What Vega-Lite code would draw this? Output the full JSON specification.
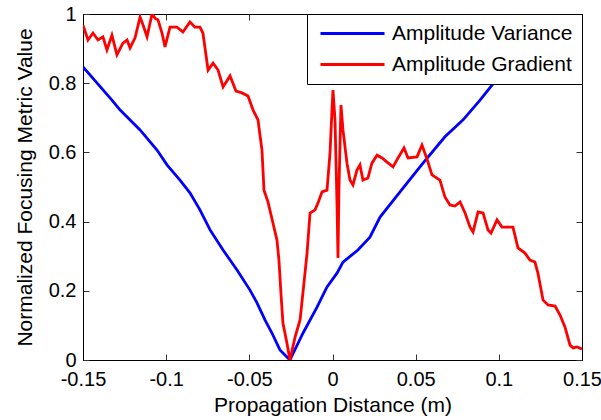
{
  "$schema": "https://vega.github.io/schema/vega-lite/v6.json",
  "width": 499,
  "height": 346,
  "autosize": {"type": "none"},
  "padding": {"left": 83, "top": 14, "right": 19, "bottom": 60},
  "background": "white",
  "config": {
    "font": "Liberation Sans",
    "view": {"stroke": "black", "strokeWidth": 1},
    "axis": {"grid": false, "domainColor": "black", "tickColor": "#333333", "labelColor": "black", "titleColor": "black", "labelFont": "Liberation Sans", "titleFont": "Liberation Sans", "labelFontSize": 20, "titleFontSize": 21, "titleFontWeight": "normal"}
  },
  "data": {
    "values": [
      {"series": "Amplitude Variance", "x": -0.15, "y": 0.847},
      {"series": "Amplitude Variance", "x": -0.1326, "y": 0.751},
      {"series": "Amplitude Variance", "x": -0.1278, "y": 0.723},
      {"series": "Amplitude Variance", "x": -0.1157, "y": 0.665},
      {"series": "Amplitude Variance", "x": -0.1055, "y": 0.607},
      {"series": "Amplitude Variance", "x": -0.0995, "y": 0.564},
      {"series": "Amplitude Variance", "x": -0.0917, "y": 0.52},
      {"series": "Amplitude Variance", "x": -0.0857, "y": 0.483},
      {"series": "Amplitude Variance", "x": -0.0797, "y": 0.434},
      {"series": "Amplitude Variance", "x": -0.0736, "y": 0.376},
      {"series": "Amplitude Variance", "x": -0.0658, "y": 0.318},
      {"series": "Amplitude Variance", "x": -0.0574, "y": 0.26},
      {"series": "Amplitude Variance", "x": -0.0496, "y": 0.202},
      {"series": "Amplitude Variance", "x": -0.0454, "y": 0.165},
      {"series": "Amplitude Variance", "x": -0.0406, "y": 0.116},
      {"series": "Amplitude Variance", "x": -0.0364, "y": 0.078},
      {"series": "Amplitude Variance", "x": -0.0316, "y": 0.029},
      {"series": "Amplitude Variance", "x": -0.0256, "y": 0.0},
      {"series": "Amplitude Variance", "x": -0.0177, "y": 0.078},
      {"series": "Amplitude Variance", "x": -0.0093, "y": 0.153},
      {"series": "Amplitude Variance", "x": -0.0033, "y": 0.211},
      {"series": "Amplitude Variance", "x": 0.0027, "y": 0.251},
      {"series": "Amplitude Variance", "x": 0.0063, "y": 0.283},
      {"series": "Amplitude Variance", "x": 0.0153, "y": 0.318},
      {"series": "Amplitude Variance", "x": 0.0225, "y": 0.355},
      {"series": "Amplitude Variance", "x": 0.0286, "y": 0.413},
      {"series": "Amplitude Variance", "x": 0.0406, "y": 0.486},
      {"series": "Amplitude Variance", "x": 0.0544, "y": 0.569},
      {"series": "Amplitude Variance", "x": 0.0676, "y": 0.645},
      {"series": "Amplitude Variance", "x": 0.0785, "y": 0.694},
      {"series": "Amplitude Variance", "x": 0.0887, "y": 0.751},
      {"series": "Amplitude Variance", "x": 0.0965, "y": 0.798},
      {"series": "Amplitude Variance", "x": 0.1127, "y": 0.881},
      {"series": "Amplitude Variance", "x": 0.1308, "y": 0.948},
      {"series": "Amplitude Variance", "x": 0.15, "y": 1.0},
      {"series": "Amplitude Gradient", "x": -0.15, "y": 0.968},
      {"series": "Amplitude Gradient", "x": -0.147, "y": 0.925},
      {"series": "Amplitude Gradient", "x": -0.144, "y": 0.945},
      {"series": "Amplitude Gradient", "x": -0.141, "y": 0.925},
      {"series": "Amplitude Gradient", "x": -0.138, "y": 0.934},
      {"series": "Amplitude Gradient", "x": -0.1356, "y": 0.896},
      {"series": "Amplitude Gradient", "x": -0.1326, "y": 0.939},
      {"series": "Amplitude Gradient", "x": -0.1296, "y": 0.882},
      {"series": "Amplitude Gradient", "x": -0.126, "y": 0.916},
      {"series": "Amplitude Gradient", "x": -0.1235, "y": 0.925},
      {"series": "Amplitude Gradient", "x": -0.1217, "y": 0.902},
      {"series": "Amplitude Gradient", "x": -0.1187, "y": 0.931},
      {"series": "Amplitude Gradient", "x": -0.1157, "y": 0.991},
      {"series": "Amplitude Gradient", "x": -0.1139, "y": 0.968},
      {"series": "Amplitude Gradient", "x": -0.1115, "y": 0.934},
      {"series": "Amplitude Gradient", "x": -0.1085, "y": 1.0},
      {"series": "Amplitude Gradient", "x": -0.1067, "y": 0.988},
      {"series": "Amplitude Gradient", "x": -0.1049, "y": 0.983},
      {"series": "Amplitude Gradient", "x": -0.1025, "y": 0.945},
      {"series": "Amplitude Gradient", "x": -0.1007, "y": 0.905},
      {"series": "Amplitude Gradient", "x": -0.0977, "y": 0.962},
      {"series": "Amplitude Gradient", "x": -0.0935, "y": 0.962},
      {"series": "Amplitude Gradient", "x": -0.0899, "y": 0.948},
      {"series": "Amplitude Gradient", "x": -0.0857, "y": 0.977},
      {"series": "Amplitude Gradient", "x": -0.0827, "y": 0.962},
      {"series": "Amplitude Gradient", "x": -0.0797, "y": 0.962},
      {"series": "Amplitude Gradient", "x": -0.0779, "y": 0.945},
      {"series": "Amplitude Gradient", "x": -0.0748, "y": 0.838},
      {"series": "Amplitude Gradient", "x": -0.0718, "y": 0.858},
      {"series": "Amplitude Gradient", "x": -0.0688, "y": 0.838},
      {"series": "Amplitude Gradient", "x": -0.0658, "y": 0.789},
      {"series": "Amplitude Gradient", "x": -0.0616, "y": 0.821},
      {"series": "Amplitude Gradient", "x": -0.058, "y": 0.777},
      {"series": "Amplitude Gradient", "x": -0.0544, "y": 0.772},
      {"series": "Amplitude Gradient", "x": -0.0508, "y": 0.763},
      {"series": "Amplitude Gradient", "x": -0.0478, "y": 0.723},
      {"series": "Amplitude Gradient", "x": -0.0448, "y": 0.694},
      {"series": "Amplitude Gradient", "x": -0.0424, "y": 0.607},
      {"series": "Amplitude Gradient", "x": -0.0412, "y": 0.491},
      {"series": "Amplitude Gradient", "x": -0.0388, "y": 0.457},
      {"series": "Amplitude Gradient", "x": -0.0358, "y": 0.396},
      {"series": "Amplitude Gradient", "x": -0.0334, "y": 0.347},
      {"series": "Amplitude Gradient", "x": -0.0322, "y": 0.289},
      {"series": "Amplitude Gradient", "x": -0.031, "y": 0.194},
      {"series": "Amplitude Gradient", "x": -0.0298, "y": 0.107},
      {"series": "Amplitude Gradient", "x": -0.0274, "y": 0.049},
      {"series": "Amplitude Gradient", "x": -0.0256, "y": 0.0},
      {"series": "Amplitude Gradient", "x": -0.0225, "y": 0.066},
      {"series": "Amplitude Gradient", "x": -0.0195, "y": 0.116},
      {"series": "Amplitude Gradient", "x": -0.0171, "y": 0.225},
      {"series": "Amplitude Gradient", "x": -0.0153, "y": 0.309},
      {"series": "Amplitude Gradient", "x": -0.0135, "y": 0.425},
      {"series": "Amplitude Gradient", "x": -0.0105, "y": 0.434},
      {"series": "Amplitude Gradient", "x": -0.0087, "y": 0.454},
      {"series": "Amplitude Gradient", "x": -0.0063, "y": 0.486},
      {"series": "Amplitude Gradient", "x": -0.0033, "y": 0.491},
      {"series": "Amplitude Gradient", "x": -0.0015, "y": 0.598},
      {"series": "Amplitude Gradient", "x": -0.0003, "y": 0.723},
      {"series": "Amplitude Gradient", "x": 0.0003, "y": 0.78},
      {"series": "Amplitude Gradient", "x": 0.0015, "y": 0.694},
      {"series": "Amplitude Gradient", "x": 0.0027, "y": 0.454},
      {"series": "Amplitude Gradient", "x": 0.0033, "y": 0.295},
      {"series": "Amplitude Gradient", "x": 0.0039, "y": 0.5},
      {"series": "Amplitude Gradient", "x": 0.0051, "y": 0.737},
      {"series": "Amplitude Gradient", "x": 0.0063, "y": 0.665},
      {"series": "Amplitude Gradient", "x": 0.0087, "y": 0.569},
      {"series": "Amplitude Gradient", "x": 0.0105, "y": 0.52},
      {"series": "Amplitude Gradient", "x": 0.0123, "y": 0.506},
      {"series": "Amplitude Gradient", "x": 0.0147, "y": 0.549},
      {"series": "Amplitude Gradient", "x": 0.0165, "y": 0.564},
      {"series": "Amplitude Gradient", "x": 0.0183, "y": 0.52},
      {"series": "Amplitude Gradient", "x": 0.0213, "y": 0.526},
      {"series": "Amplitude Gradient", "x": 0.0237, "y": 0.569},
      {"series": "Amplitude Gradient", "x": 0.0268, "y": 0.592},
      {"series": "Amplitude Gradient", "x": 0.0298, "y": 0.584},
      {"series": "Amplitude Gradient", "x": 0.0328, "y": 0.572},
      {"series": "Amplitude Gradient", "x": 0.0364, "y": 0.558},
      {"series": "Amplitude Gradient", "x": 0.0394, "y": 0.584},
      {"series": "Amplitude Gradient", "x": 0.043, "y": 0.613},
      {"series": "Amplitude Gradient", "x": 0.0454, "y": 0.584},
      {"series": "Amplitude Gradient", "x": 0.0508, "y": 0.587},
      {"series": "Amplitude Gradient", "x": 0.0538, "y": 0.621},
      {"series": "Amplitude Gradient", "x": 0.0568, "y": 0.581},
      {"series": "Amplitude Gradient", "x": 0.0598, "y": 0.535},
      {"series": "Amplitude Gradient", "x": 0.0646, "y": 0.52},
      {"series": "Amplitude Gradient", "x": 0.0676, "y": 0.471},
      {"series": "Amplitude Gradient", "x": 0.0706, "y": 0.448},
      {"series": "Amplitude Gradient", "x": 0.0736, "y": 0.445},
      {"series": "Amplitude Gradient", "x": 0.0767, "y": 0.457},
      {"series": "Amplitude Gradient", "x": 0.0797, "y": 0.425},
      {"series": "Amplitude Gradient", "x": 0.0827, "y": 0.384},
      {"series": "Amplitude Gradient", "x": 0.0845, "y": 0.37},
      {"series": "Amplitude Gradient", "x": 0.0875, "y": 0.428},
      {"series": "Amplitude Gradient", "x": 0.0905, "y": 0.425},
      {"series": "Amplitude Gradient", "x": 0.0935, "y": 0.376},
      {"series": "Amplitude Gradient", "x": 0.0953, "y": 0.367},
      {"series": "Amplitude Gradient", "x": 0.0989, "y": 0.405},
      {"series": "Amplitude Gradient", "x": 0.1019, "y": 0.384},
      {"series": "Amplitude Gradient", "x": 0.1085, "y": 0.384},
      {"series": "Amplitude Gradient", "x": 0.1115, "y": 0.324},
      {"series": "Amplitude Gradient", "x": 0.1157, "y": 0.309},
      {"series": "Amplitude Gradient", "x": 0.1187, "y": 0.289},
      {"series": "Amplitude Gradient", "x": 0.1217, "y": 0.283},
      {"series": "Amplitude Gradient", "x": 0.1235, "y": 0.251},
      {"series": "Amplitude Gradient", "x": 0.1266, "y": 0.173},
      {"series": "Amplitude Gradient", "x": 0.1296, "y": 0.159},
      {"series": "Amplitude Gradient", "x": 0.1338, "y": 0.156},
      {"series": "Amplitude Gradient", "x": 0.1368, "y": 0.13},
      {"series": "Amplitude Gradient", "x": 0.1398, "y": 0.095},
      {"series": "Amplitude Gradient", "x": 0.1428, "y": 0.043},
      {"series": "Amplitude Gradient", "x": 0.1446, "y": 0.035},
      {"series": "Amplitude Gradient", "x": 0.147, "y": 0.038},
      {"series": "Amplitude Gradient", "x": 0.15, "y": 0.032}
    ]
  },
  "layer": [
    {
      "mark": {"type": "line", "strokeWidth": 2.8, "clip": true},
      "encoding": {
        "x": {
          "field": "x", "type": "quantitative",
          "scale": {"domain": [-0.15, 0.15], "nice": false, "zero": false},
          "axis": {"orient": "bottom", "values": [-0.15, -0.1, -0.05, 0, 0.05, 0.1, 0.15], "labelExpr": "'' + datum.value", "tickSize": -6, "labelPadding": 15, "labelFlush": false, "labelBound": false, "labelOverlap": false, "title": "Propagation Distance (m)", "titlePadding": 5}
        },
        "y": {
          "field": "y", "type": "quantitative",
          "scale": {"domain": [0, 1], "nice": false},
          "axis": {"orient": "left", "values": [0, 0.2, 0.4, 0.6, 0.8, 1], "labelExpr": "'' + datum.value", "tickSize": -6, "labelPadding": 13, "labelFlush": false, "labelBound": false, "labelOverlap": false, "title": "Normalized Focusing Metric Value", "titlePadding": 13}
        },
        "color": {
          "field": "series", "type": "nominal",
          "scale": {"domain": ["Amplitude Variance", "Amplitude Gradient"], "range": ["#0000ff", "#ff0000"]},
          "legend": {"title": null, "orient": "top-right", "offset": 0, "fillColor": "white", "strokeColor": "black", "padding": 9, "symbolType": "M-4,0H4", "symbolSize": 256, "symbolStrokeWidth": 3, "symbolOffset": 26, "labelFontSize": 21, "labelFont": "Liberation Sans", "labelColor": "black", "labelOffset": 29, "labelLimit": 400, "rowPadding": 9}
        }
      }
    },
    {
      "mark": {"type": "point", "opacity": 0},
      "encoding": {
        "x": {"field": "x", "type": "quantitative", "axis": {"orient": "top", "values": [-0.15, -0.1, -0.05, 0, 0.05, 0.1, 0.15], "labels": false, "tickSize": -6, "title": null}},
        "y": {"field": "y", "type": "quantitative", "axis": {"orient": "right", "values": [0, 0.2, 0.4, 0.6, 0.8, 1], "labels": false, "tickSize": -6, "title": null}}
      }
    }
  ],
  "resolve": {"axis": {"x": "independent", "y": "independent"}}
}
